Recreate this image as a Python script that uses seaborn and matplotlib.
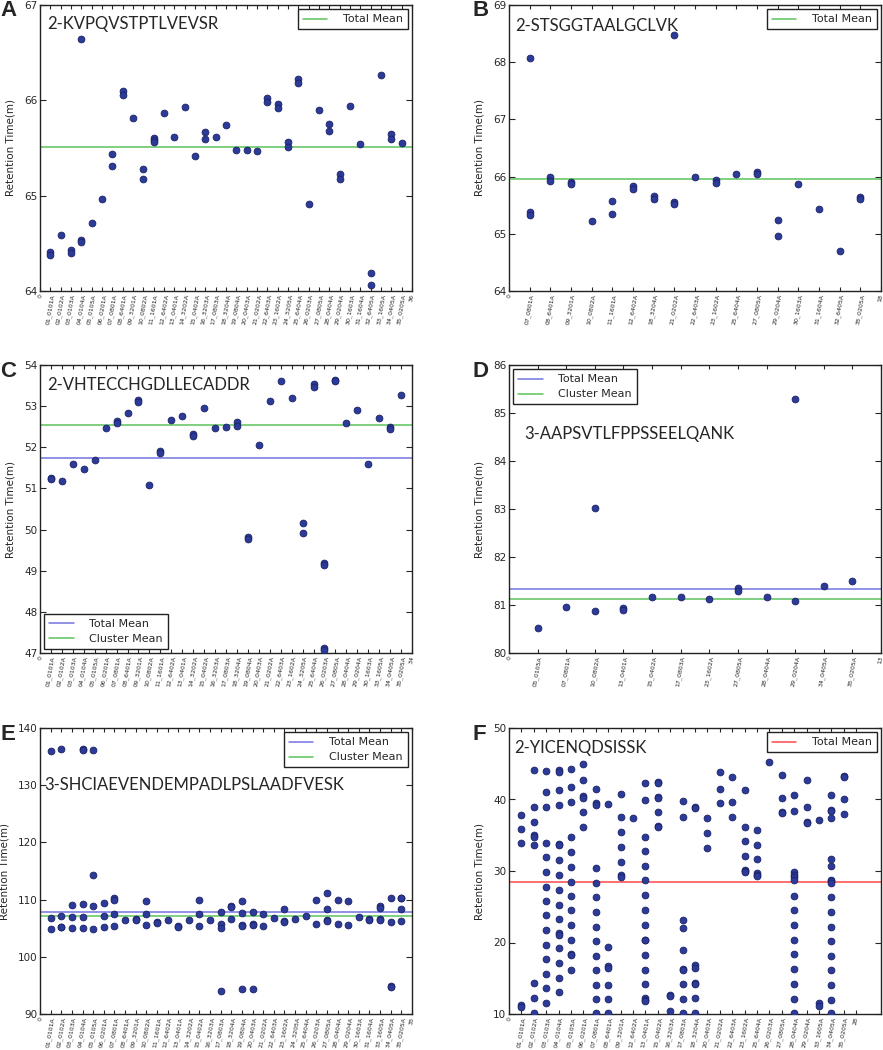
import matplotlib
matplotlib.use("Agg")
import matplotlib.pyplot as plt
import pandas as pd
import seaborn as sns

# ---- panel A: 2-KVPQVSTPTLVEVSR
a_samples = ["01_0101A", "02_0102A", "03_0103A", "04_0104A", "05_0105A", "06_0201A", "07_0801A",
             "08_6401A", "09_3201A", "10_0802A", "11_1601A", "12_6402A", "13_0401A", "14_3202A",
             "15_0402A", "16_3203A", "17_0803A", "18_3204A", "19_0804A", "20_0403A", "21_0202A",
             "22_6403A", "23_1602A", "24_3205A", "25_6404A", "26_0203A", "27_0805A", "28_0404A",
             "29_0204A", "30_1603A", "31_1604A", "32_6405A", "33_1605A", "34_0405A", "35_0205A"]
a_rt = [[64.41, 64.38], [64.59], [64.43, 64.40], [66.64, 64.54, 64.51], [64.71], [64.96],
        [65.44, 65.31], [66.10, 66.06], [65.81], [65.28, 65.17], [65.60, 65.58, 65.56], [65.87],
        [65.62], [65.93], [65.42], [65.67, 65.59], [65.62], [65.74], [65.48], [65.48], [65.47],
        [66.02, 65.98], [65.96, 65.92], [65.56, 65.51], [66.22, 66.18], [64.91], [65.90],
        [65.75, 65.68], [65.23, 65.18], [65.94], [65.54], [64.19, 64.06], [66.27],
        [65.65, 65.59], [65.55]]
a_total_mean = 65.51

# ---- panel B: 2-STSGGTAALGCLVK
b_samples = ["07_0801A", "08_6401A", "09_3201A", "10_0802A", "11_1601A", "12_6402A", "18_3204A",
             "21_0202A", "22_6403A", "23_1602A", "25_6404A", "27_0805A", "29_0204A", "30_1603A",
             "31_1604A", "32_6405A", "35_0205A"]
b_rt = [[68.07, 65.38, 65.33], [66.00, 65.92], [65.91, 65.87], [65.23], [65.58, 65.35],
        [65.84, 65.79], [65.66, 65.61], [68.48, 65.56, 65.52], [66.00], [65.94, 65.89], [66.05],
        [66.08, 66.04], [65.25, 64.97], [65.87], [65.43], [64.70], [65.64, 65.61]]
b_total_mean = 65.96

# ---- panel C: 2-VHTECCHGDLLECADDR
c_samples = ["01_0101A", "02_0102A", "03_0103A", "04_0104A", "05_0105A", "06_0201A", "07_0801A",
             "08_6401A", "09_3201A", "10_0802A", "11_1601A", "12_6402A", "13_0401A", "14_3202A",
             "15_0402A", "16_3203A", "17_0803A", "18_3204A", "19_0804A", "20_0403A", "21_0202A",
             "22_6403A", "23_1602A", "24_3205A", "25_6404A", "26_0203A", "27_0805A", "28_0404A",
             "29_0204A", "30_1603A", "33_1605A", "34_0405A", "35_0205A"]
c_rt = [[51.26, 51.23], [51.17], [51.59], [51.48], [51.70], [52.48], [52.64, 52.58], [52.83],
        [53.15, 53.11], [51.08], [51.91, 51.87], [52.66], [52.77], [52.33, 52.28], [52.96],
        [52.48], [52.49], [52.61, 52.52], [49.83, 49.77], [52.05], [53.12], [53.62], [53.20],
        [50.16, 49.91], [53.55, 53.47], [49.18, 49.14, 47.13, 47.08], [53.63, 53.60], [52.58],
        [52.91], [51.59], [52.70], [52.50, 52.45], [53.28]]
c_total_mean = 51.74
c_cluster_mean = 52.53

# ---- panel D: 3-AAPSVTLFPPSSEELQANK
d_samples = ["05_0105A", "07_0801A", "10_0802A", "13_0401A", "15_0402A", "17_0803A", "23_1602A",
             "27_0805A", "28_0404A", "29_0204A", "34_0405A", "35_0205A"]
d_rt = [[80.53], [80.95], [83.02, 80.87], [80.94, 80.90], [81.17], [81.17], [81.13],
        [81.36, 81.29], [81.17], [85.30, 81.08], [81.40], [81.49]]
d_total_mean = 81.34
d_cluster_mean = 81.12

# ---- panel E: 3-SHCIAEVENDEMPADLPSLAADFVESK
e_samples = ["01_0101A", "02_0102A", "03_0103A", "04_0104A", "05_0105A", "06_0201A", "07_0801A",
             "08_6401A", "09_3201A", "10_0802A", "11_1601A", "12_6402A", "13_0401A", "14_3202A",
             "15_0402A", "16_3203A", "17_0803A", "18_3204A", "19_0804A", "20_0403A", "21_0202A",
             "22_6403A", "23_1602A", "24_3205A", "25_6404A", "26_0203A", "27_0805A", "28_0404A",
             "29_0204A", "30_1603A", "31_1604A", "33_1605A", "34_0405A", "35_0205A"]
e_rt = [[135.98, 106.82, 104.84], [136.27, 107.2, 105.25, 105.13], [108.97, 106.94, 104.96],
        [136.4, 136.2, 109.2, 107.0, 105.0], [136.16, 114.33, 108.92, 104.84],
        [109.33, 107.2, 105.2], [110.35, 110.0, 107.46, 105.47], [106.47], [106.6, 106.5],
        [109.7, 107.46, 105.54], [106.1, 105.9], [106.4], [105.3, 105.2], [106.4],
        [110.0, 107.5, 105.4], [106.5], [107.75, 105.7, 105.1, 94.1], [108.9, 108.7, 106.6],
        [109.8, 107.6, 105.5, 105.4, 94.3], [107.75, 105.7, 105.5, 94.4], [107.5, 105.4],
        [106.8], [108.3, 106.3, 106.1], [106.6], [107.2], [110.0, 105.7],
        [111.2, 108.4, 106.4, 106.2], [109.9, 105.7], [109.7, 105.5], [106.9], [106.6, 106.4],
        [108.8, 108.5, 106.6, 106.4], [110.2, 106.1, 94.9, 94.7], [110.3, 110.2, 108.3, 106.2]]
e_total_mean = 107.87
e_cluster_mean = 107.05

# ---- panel F: 2-YICENQDSISSK
f_samples = ["01_0101A", "02_0102A", "03_0103A", "04_0104A", "05_0105A", "06_0201A", "07_0801A",
             "08_6401A", "09_3201A", "12_6402A", "13_0401A", "15_0402A", "16_3203A", "17_0803A",
             "18_3204A", "20_0403A", "21_0202A", "22_6403A", "23_1602A", "25_6404A", "26_0203A",
             "27_0805A", "28_0404A", "29_0204A", "33_1605A", "34_0405A", "35_0205A"]
f_rt = [[37.9, 35.9, 33.9, 11.2, 11.0],
        [44.1, 38.9, 36.9, 35.0, 34.7, 33.7, 14.3, 12.2, 10.2],
        [44.0, 41.1, 39.0, 33.9, 31.9, 29.9, 27.8, 25.8, 23.8, 21.7, 19.7, 17.7, 15.6, 13.6, 11.5],
        [44.1, 43.8, 41.3, 39.3, 33.8, 33.6, 31.6, 29.5, 27.4, 25.3, 23.3, 21.3, 21.1, 19.2, 17.1,
         15.1, 13.1],
        [44.3, 41.7, 39.7, 34.7, 32.6, 30.6, 28.5, 26.5, 24.5, 22.4, 20.3, 18.4, 18.2, 16.1],
        [45.0, 42.7, 40.5, 40.2, 38.3, 36.2],
        [41.5, 39.5, 39.2, 30.4, 28.3, 26.3, 24.3, 22.2, 20.2, 18.1, 16.1, 14.1, 12.1, 10.1],
        [39.4, 19.4, 16.7, 16.4, 14.1, 12.1, 10.1],
        [40.8, 37.5, 35.4, 33.4, 31.3, 29.4, 29.2],
        [37.4],
        [42.3, 39.9, 34.8, 32.8, 30.7, 28.7, 26.6, 24.5, 22.5, 20.4, 20.3, 18.3, 16.2, 14.2, 12.3,
         12.0, 11.8],
        [42.5, 42.3, 40.4, 40.2, 38.2, 36.3, 36.1],
        [12.7, 12.5, 10.4],
        [39.8, 37.5, 23.1, 22.0, 18.9, 16.3, 16.2, 14.2, 12.1, 10.1],
        [38.9, 38.8, 16.8, 16.5, 14.4, 14.2, 12.2, 10.2],
        [37.4, 35.3, 33.2],
        [43.8, 41.5, 39.5],
        [43.2, 39.7, 37.6],
        [41.3, 36.2, 34.2, 32.1, 30.2, 30.0, 29.8],
        [35.8, 33.7, 31.7, 29.7, 29.5, 29.3],
        [45.2],
        [43.4, 40.2, 38.2, 38.1],
        [40.6, 38.4, 29.8, 29.5, 29.1, 28.7, 26.5, 24.5, 22.4, 20.4, 18.4, 16.3, 14.2, 12.1, 10.1],
        [42.7, 38.9, 36.9, 36.7],
        [37.2, 11.5, 11.1],
        [40.6, 38.6, 38.4, 37.4, 31.7, 30.7, 28.8, 28.6, 28.3, 26.3, 24.2, 22.2, 20.2, 18.1, 16.1,
         14.0, 12.0, 10.1],
        [43.3, 43.1, 40.1, 38.0]]
f_total_mean = 28.45

DOT = "#2c3a98"
DOT_EDGE = "#1b2266"
BLUE_LINE = "#7474e0"
GREEN_LINE = "#5cc35c"
RED_LINE = "#ff4848"

sns.set_style("ticks")
plt.rcParams["font.family"] = ["DejaVu Sans"]
plt.rcParams["xtick.direction"] = "in"
plt.rcParams["ytick.direction"] = "in"
plt.rcParams["axes.linewidth"] = 1.0
plt.rcParams["axes.edgecolor"] = "#222222"

W, H = 883, 1050


def px_rect(left, top, right, bottom):
    return [left / W, 1 - bottom / H, (right - left) / W, (bottom - top) / H]


def draw_panel(fig, rect, letter, letter_xy, peptide, text_xy, samples, rt, means,
               ylim, yticks, xmax, legend_loc):
    ax = fig.add_axes(rect)
    df = pd.DataFrame({
        "pos": [i + 1 for i, vals in enumerate(rt) for _ in vals],
        "rt": [v for vals in rt for v in vals],
    })
    handles = []
    for label, value, color in means:
        handles.append(ax.axhline(value, color=color, lw=1.1, label=label, zorder=2))
    sns.scatterplot(data=df, x="pos", y="rt", color=DOT, edgecolor=DOT_EDGE, s=24,
                    linewidth=0.6, ax=ax, zorder=3)

    n = len(samples)
    ax.set_xticks(range(n + 2))
    ax.set_xticklabels(["0"] + samples + [str(n + 1)], rotation=80, fontsize=4.5)
    ax.set_xlim(0, xmax)
    ax.set_ylim(*ylim)
    ax.set_yticks(yticks)
    ax.tick_params(axis="y", labelsize=7.5, length=4, width=0.8, right=True, pad=2)
    ax.tick_params(axis="x", length=3, width=0.8, top=True, pad=2)
    ax.set_xlabel(None)
    ax.set_ylabel("Retention Time(m)", fontsize=7.5, labelpad=6)

    ax.text(text_xy[0], text_xy[1], peptide, transform=ax.transAxes, fontsize=12,
            family=["Lato", "DejaVu Sans"], ha="left", va="baseline")

    leg = ax.legend(handles=handles, loc=legend_loc, fontsize=8, fancybox=False,
                    framealpha=1, edgecolor="#222222", handlelength=2.2, handletextpad=1.4,
                    borderaxespad=0.4, borderpad=0.45, labelspacing=0.45)
    leg.get_frame().set_linewidth(1.0)

    fig.text(letter_xy[0] / W, 1 - letter_xy[1] / H, letter, fontsize=16, fontweight="bold",
             family=["Liberation Sans", "DejaVu Sans"], ha="left", va="top")
    return ax


fig = plt.figure(figsize=(W / 100, H / 100), dpi=100)

draw_panel(fig, px_rect(40, 5, 412, 291), "A", (0, 0), "2-KVPQVSTPTLVEVSR", (0.019, 0.915),
           a_samples, a_rt, [("Total Mean", a_total_mean, GREEN_LINE)],
           (64, 67), [64, 65, 66, 67], len(a_samples) + 1, "upper right")

draw_panel(fig, px_rect(509, 5, 881, 291), "B", (473, 0), "2-STSGGTAALGCLVK", (0.016, 0.909),
           b_samples, b_rt, [("Total Mean", b_total_mean, GREEN_LINE)],
           (64, 69), [64, 65, 66, 67, 68, 69], len(b_samples) + 1, "upper right")

draw_panel(fig, px_rect(40, 365, 412, 653), "C", (0, 361), "2-VHTECCHGDLLECADDR", (0.019, 0.913),
           c_samples, c_rt, [("Total Mean", c_total_mean, BLUE_LINE),
                             ("Cluster Mean", c_cluster_mean, GREEN_LINE)],
           (47, 54), list(range(47, 55)), len(c_samples) + 1, "lower left")

draw_panel(fig, px_rect(509, 365, 881, 653), "D", (473, 361), "3-AAPSVTLFPPSSEELQANK", (0.04, 0.742),
           d_samples, d_rt, [("Total Mean", d_total_mean, BLUE_LINE),
                             ("Cluster Mean", d_cluster_mean, GREEN_LINE)],
           (80, 86), list(range(80, 87)), len(d_samples) + 1, "upper left")

draw_panel(fig, px_rect(40, 728, 412, 1014), "E", (0, 724), "3-SHCIAEVENDEMPADLPSLAADFVESK",
           (0.011, 0.782), e_samples, e_rt, [("Total Mean", e_total_mean, BLUE_LINE),
                                             ("Cluster Mean", e_cluster_mean, GREEN_LINE)],
           (90, 140), list(range(90, 141, 10)), len(e_samples) + 1, "upper right")

draw_panel(fig, px_rect(509, 728, 881, 1014), "F", (473, 724), "2-YICENQDSISSK", (0.013, 0.914),
           f_samples, f_rt, [("Total Mean", f_total_mean, RED_LINE)],
           (10, 50), list(range(10, 51, 10)), 30, "upper right")

fig.savefig("out.png", dpi=100)
